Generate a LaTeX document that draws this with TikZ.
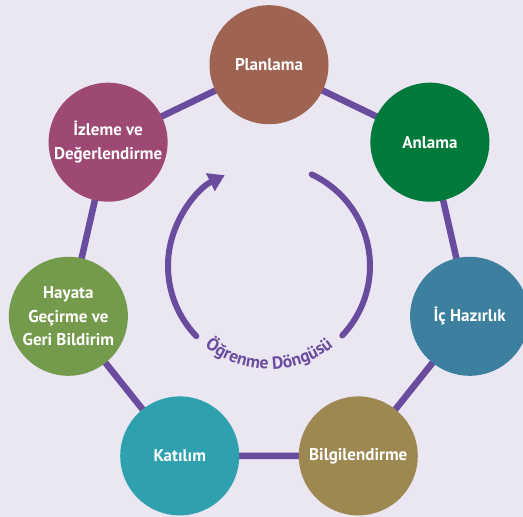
\documentclass[tikz,border=0pt]{standalone}
\usepackage{fontspec}
\setmainfont{PT Sans}
\usetikzlibrary{arrows.meta,decorations.text,backgrounds}

\definecolor{bg}{HTML}{EAE6F2}
\definecolor{loop}{HTML}{6A4C9F}
\definecolor{cplan}{HTML}{9E6451}
\definecolor{canl}{HTML}{007A3A}
\definecolor{chaz}{HTML}{3C7F9E}
\definecolor{cbilg}{HTML}{9E8852}
\definecolor{ckat}{HTML}{2EA0AE}
\definecolor{chay}{HTML}{749B4B}
\definecolor{cizl}{HTML}{9E4874}

\newcommand\stagefont{\fontsize{17}{23.5}\selectfont\bfseries}
\newcommand\cyclefont{\fontsize{17.5}{19}\selectfont\bfseries}

\tikzset{
  stage/.style={circle, minimum size=119pt, inner sep=0pt, text=white,
    align=center, font=\stagefont},
  link/.style={draw=loop, line width=6.5pt},
  cyclearc/.style={draw=loop, line width=6pt, line cap=round},
}

\begin{document}
\begin{tikzpicture}[x=1pt,y=1pt]
\useasboundingbox (0,0) rectangle (523,517);

% centre of the seven stages and of the inner cycle arrow
\coordinate (hc) at (269,246.5);
\coordinate (ac) at (269,251);

\node[stage, fill=cplan] (plan) at ([shift={(90:205.8)}]hc) {Planlama};
\node[stage, fill=canl]  (anl)  at ([shift={(38.57:205.8)}]hc) {Anlama};
\node[stage, fill=chaz]  (haz)  at ([shift={(-12.86:205.8)}]hc) {İç Hazırlık};
\node[stage, fill=cbilg] (bilg) at ([shift={(-64.29:205.8)}]hc) {Bilgilendirme};
\node[stage, fill=ckat]  (kat)  at ([shift={(-115.71:205.8)}]hc) {Katılım};
\node[stage, fill=chay]  (hay)  at ([shift={(-167.14:205.8)}]hc) {Hayata\\Geçirme ve\\Geri Bildirim};
\node[stage, fill=cizl]  (izl)  at ([shift={(141.43:205.8)}]hc) {İzleme ve\\Değerlendirme};

\begin{pgfonlayer}{background}
  \fill[bg] (0,0) rectangle (523,517);
  \draw[link] (plan.center) -- (anl.center) -- (haz.center) -- (bilg.center)
    -- (kat.center) -- (hay.center) -- (izl.center) -- (plan.center);
\end{pgfonlayer}

% inner cycle arrow
\draw[cyclearc] ([shift={(65:101)}]ac) arc[start angle=65, end angle=-43.5, radius=101];
\draw[cyclearc, -{Triangle[width=19pt,length=16pt]}]
  ([shift={(224:101)}]ac) arc[start angle=224, end angle=116, radius=101];

% curved caption under the arrow
\path[decorate, decoration={text along path, text color=loop, text align=center,
    text={|\cyclefont|Öğrenme Döngüsü}}]
  ([shift={(200:103)}]ac) arc[start angle=200, end angle=340, radius=103];
\end{tikzpicture}
\end{document}
